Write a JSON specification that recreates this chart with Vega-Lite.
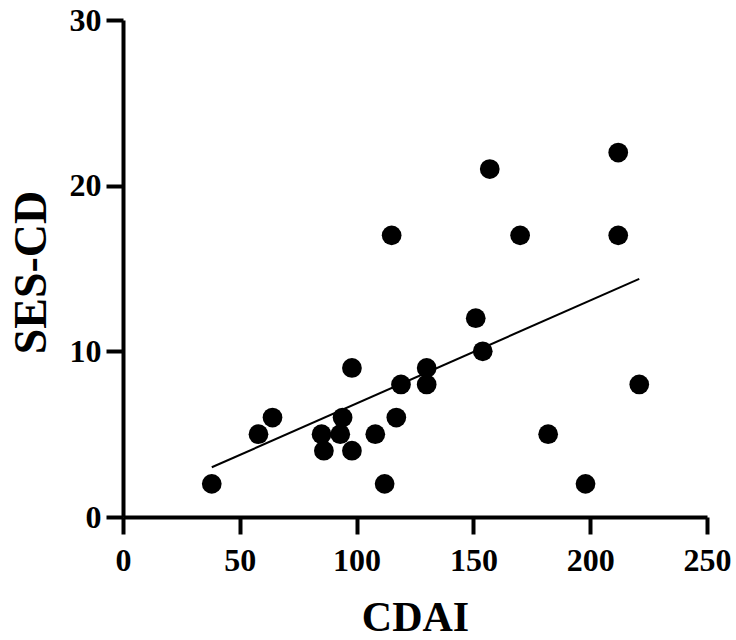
{
  "$schema": "https://vega.github.io/schema/vega-lite/v6.json",
  "autosize": {"type": "none"},
  "padding": {"left": 123, "top": 20, "right": 29, "bottom": 123},
  "width": 584,
  "height": 497,
  "background": "white",
  "config": {
    "view": {"stroke": null},
    "font": "Liberation Serif",
    "axis": {
      "grid": false,
      "domainColor": "black",
      "domainWidth": 4,
      "tickColor": "black",
      "tickWidth": 4,
      "tickSize": 17,
      "labelFont": "Liberation Serif",
      "labelFontWeight": "bold",
      "labelFontSize": 32,
      "labelColor": "black",
      "titleFont": "Liberation Serif",
      "titleFontWeight": "bold",
      "titleColor": "black"
    }
  },
  "data": {
    "values": [
      {"CDAI": 38, "SES": 2}, {"CDAI": 58, "SES": 5}, {"CDAI": 64, "SES": 6},
      {"CDAI": 85, "SES": 5}, {"CDAI": 86, "SES": 4}, {"CDAI": 93, "SES": 5},
      {"CDAI": 94, "SES": 6}, {"CDAI": 98, "SES": 9}, {"CDAI": 98, "SES": 4},
      {"CDAI": 108, "SES": 5}, {"CDAI": 112, "SES": 2}, {"CDAI": 115, "SES": 17},
      {"CDAI": 117, "SES": 6}, {"CDAI": 119, "SES": 8}, {"CDAI": 130, "SES": 9},
      {"CDAI": 130, "SES": 8}, {"CDAI": 151, "SES": 12}, {"CDAI": 154, "SES": 10},
      {"CDAI": 157, "SES": 21}, {"CDAI": 170, "SES": 17}, {"CDAI": 182, "SES": 5},
      {"CDAI": 198, "SES": 2}, {"CDAI": 212, "SES": 22}, {"CDAI": 212, "SES": 17},
      {"CDAI": 221, "SES": 8}
    ]
  },
  "layer": [
    {
      "mark": {"type": "circle", "size": 390, "color": "black", "opacity": 1},
      "encoding": {
        "x": {
          "field": "CDAI", "type": "quantitative",
          "scale": {"domain": [0, 250], "nice": false, "zero": false},
          "axis": {
            "values": [0, 50, 100, 150, 200, 250],
            "title": "CDAI",
            "titleFontSize": 42,
            "titleBaseline": "alphabetic",
            "titleX": 292,
            "titleY": 113,
            "labelBaseline": "alphabetic",
            "labelPadding": 36,
            "labelFlush": false
          }
        },
        "y": {
          "field": "SES", "type": "quantitative",
          "scale": {"domain": [0, 30], "nice": false, "zero": false},
          "axis": {
            "values": [0, 10, 20, 30],
            "title": "SES-CD",
            "titleFontSize": 46,
            "titleBaseline": "alphabetic",
            "titleAngle": -90,
            "titleX": -78,
            "titleY": 252,
            "labelPadding": 5,
            "labelFlush": false
          }
        }
      }
    },
    {
      "transform": [{"regression": "SES", "on": "CDAI"}],
      "mark": {"type": "line", "color": "black", "strokeWidth": 2},
      "encoding": {
        "x": {"field": "CDAI", "type": "quantitative"},
        "y": {"field": "SES", "type": "quantitative"}
      }
    }
  ]
}
